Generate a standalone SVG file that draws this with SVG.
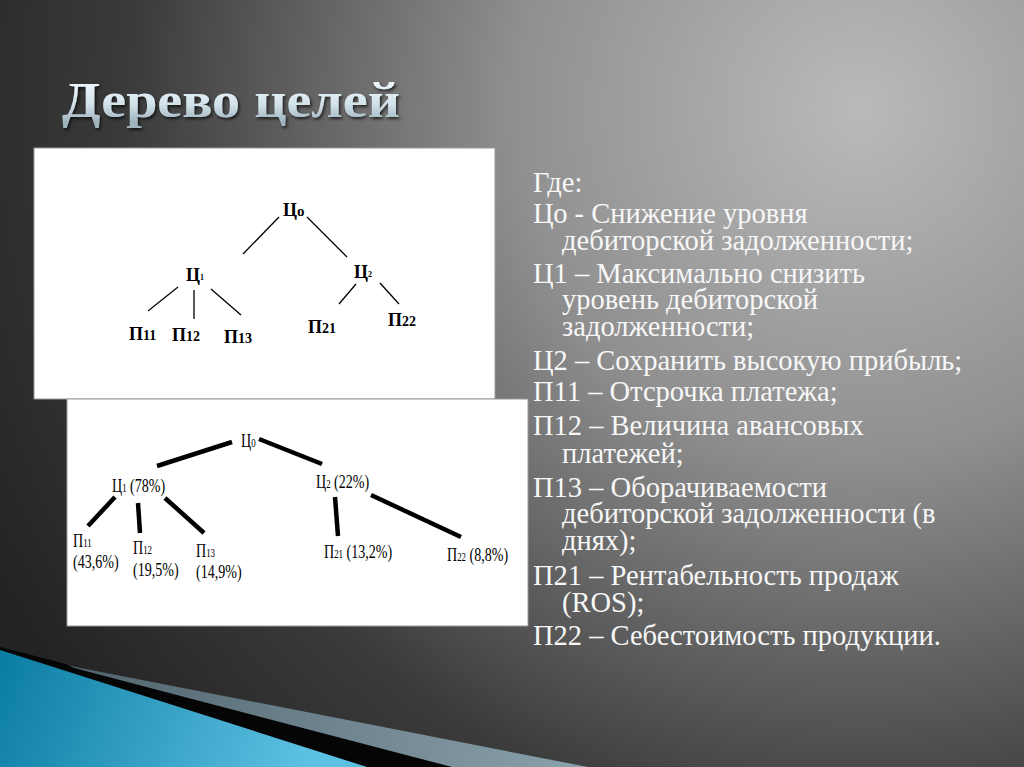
<svg xmlns="http://www.w3.org/2000/svg" width="1024" height="767" viewBox="0 0 1024 767">
  <defs>
    <radialGradient id="bg" cx="860" cy="110" r="980" gradientUnits="userSpaceOnUse">
      <stop offset="0" stop-color="#bababa"/>
      <stop offset="0.35" stop-color="#909090"/>
      <stop offset="0.75" stop-color="#3a3a3a"/>
      <stop offset="1" stop-color="#232323"/>
    </radialGradient>
    <linearGradient id="blue" x1="0" y1="650" x2="300" y2="767" gradientUnits="userSpaceOnUse">
      <stop offset="0" stop-color="#0a7ca3"/>
      <stop offset="1" stop-color="#5cc0e2"/>
    </linearGradient>
    <linearGradient id="slate" x1="60" y1="665" x2="588" y2="767" gradientUnits="userSpaceOnUse">
      <stop offset="0" stop-color="#4f636c"/>
      <stop offset="1" stop-color="#8aa2ad"/>
    </linearGradient>
    <linearGradient id="ttl" x1="0" y1="78" x2="0" y2="122" gradientUnits="userSpaceOnUse">
      <stop offset="0" stop-color="#f4fbff"/>
      <stop offset="0.6" stop-color="#d2e2ea"/>
      <stop offset="1" stop-color="#9fb3bd"/>
    </linearGradient>
    <filter id="sh" x="-5%" y="-20%" width="110%" height="140%">
      <feDropShadow dx="1.5" dy="2" stdDeviation="1.5" flood-color="#000" flood-opacity="0.7"/>
    </filter>
  </defs>
  <style>
    .t1 { font-family: "Liberation Serif", "Times New Roman", serif; font-weight: bold; fill: #000; }
    .t2 { font-family: "Liberation Serif", "Times New Roman", serif; font-size: 19px; fill: #000; }
    .sub { font-size: 12px; }
    .desc { font-family: "Liberation Serif", "Times New Roman", serif; font-size: 28.5px; fill: #f7f7f7; }
    .l1 { stroke: #000; stroke-width: 1.3; fill: none; }
    .l2 { stroke: #000; stroke-width: 4.5; fill: none; stroke-linecap: butt; }
  </style>

  <!-- background -->
  <rect x="0" y="0" width="1024" height="767" fill="url(#bg)"/>

  <!-- bottom-left decoration -->
  <polygon points="60,664 588,767 430,767" fill="url(#slate)"/>
  <polygon points="0,647 66,664 74,668 452,767 0,767" fill="#050505"/>
  <polygon points="0,650 367,767 0,767" fill="url(#blue)"/>

  <!-- title -->
  <text x="62" y="117" font-family="'Liberation Serif', 'Times New Roman', serif" font-weight="bold" font-size="50" fill="url(#ttl)" filter="url(#sh)" textLength="338" lengthAdjust="spacingAndGlyphs">Дерево целей</text>

  <!-- white panels -->
  <rect x="34" y="148" width="461" height="251" fill="#ffffff" stroke="#9a9a9a" stroke-width="1"/>
  <rect x="67" y="399" width="461" height="227" fill="#ffffff" stroke="#9a9a9a" stroke-width="1"/>

  <!-- tree 1 connectors -->
  <g id="connectors-tree1">
    <line class="l1" x1="279" y1="217" x2="243" y2="254"/>
    <line class="l1" x1="307" y1="217" x2="347" y2="257"/>
    <line class="l1" x1="178" y1="287" x2="148" y2="311"/>
    <line class="l1" x1="194" y1="290" x2="194" y2="319"/>
    <line class="l1" x1="211" y1="289" x2="241" y2="315"/>
    <line class="l1" x1="356" y1="284" x2="339" y2="304"/>
    <line class="l1" x1="380" y1="283" x2="399" y2="304"/>
  </g>

  <!-- tree 1 nodes -->
  <g id="t1-c0"><text class="t1" x="283" y="216" font-size="18">Ц<tspan font-size="15">о</tspan></text></g>
  <g id="t1-c1"><text class="t1" x="186" y="281" font-size="18">Ц<tspan font-size="8" dy="-1">1</tspan></text></g>
  <g id="t1-c2"><text class="t1" x="354" y="278" font-size="18">Ц<tspan font-size="8" dy="-1">2</tspan></text></g>
  <g id="t1-p11"><text class="t1" x="129" y="340" font-size="18">П<tspan font-size="14">11</tspan></text></g>
  <g id="t1-p12"><text class="t1" x="172" y="341" font-size="18">П<tspan font-size="14">12</tspan></text></g>
  <g id="t1-p13"><text class="t1" x="224" y="343" font-size="18">П<tspan font-size="14">13</tspan></text></g>
  <g id="t1-p21"><text class="t1" x="308" y="333" font-size="18">П<tspan font-size="14">21</tspan></text></g>
  <g id="t1-p22"><text class="t1" x="388" y="326" font-size="18">П<tspan font-size="14">22</tspan></text></g>

  <!-- tree 2 connectors -->
  <g id="connectors-tree2">
    <line class="l2" x1="232" y1="442" x2="157" y2="466"/>
    <line class="l2" x1="259" y1="439" x2="322" y2="464"/>
    <line class="l2" x1="115" y1="497" x2="88" y2="526"/>
    <line class="l2" x1="138" y1="503" x2="140" y2="533"/>
    <line class="l2" x1="165" y1="498" x2="204" y2="533"/>
    <line class="l2" x1="335" y1="497" x2="338" y2="536"/>
    <line class="l2" x1="371" y1="495" x2="461" y2="537"/>
  </g>

  <!-- tree 2 nodes (horizontally condensed like the reference) -->
  <g id="t2-c0" transform="translate(241,447) scale(0.74,1)"><text class="t2" x="0" y="0">Ц<tspan class="sub">0</tspan></text></g>
  <g id="t2-c1" transform="translate(112,492) scale(0.74,1)"><text class="t2" x="0" y="0">Ц<tspan class="sub">1</tspan> (78%)</text></g>
  <g id="t2-c2" transform="translate(316,488) scale(0.74,1)"><text class="t2" x="0" y="0">Ц<tspan class="sub">2</tspan> (22%)</text></g>
  <g id="t2-p11" transform="translate(73,547) scale(0.74,1)">
    <text class="t2" x="0" y="0">П<tspan class="sub">11</tspan></text>
    <text class="t2" x="0" y="21">(43,6%)</text>
  </g>
  <g id="t2-p12" transform="translate(133,554) scale(0.74,1)">
    <text class="t2" x="0" y="0">П<tspan class="sub">12</tspan></text>
    <text class="t2" x="0" y="22">(19,5%)</text>
  </g>
  <g id="t2-p13" transform="translate(196,557) scale(0.74,1)">
    <text class="t2" x="0" y="0">П<tspan class="sub">13</tspan></text>
    <text class="t2" x="0" y="21">(14,9%)</text>
  </g>
  <g id="t2-p21" transform="translate(324,558) scale(0.74,1)"><text class="t2" x="0" y="0">П<tspan class="sub">21</tspan> (13,2%)</text></g>
  <g id="t2-p22" transform="translate(447,561) scale(0.74,1)"><text class="t2" x="0" y="0">П<tspan class="sub">22</tspan> (8,8%)</text></g>

  <!-- description -->
  <g id="legend">
    <text class="desc" x="533" y="192">Где:</text>
    <text class="desc" x="533" y="223">Цо - Снижение уровня</text>
    <text class="desc" x="562" y="250">дебиторской задолженности;</text>
    <text class="desc" x="533" y="283">Ц1 – Максимально снизить</text>
    <text class="desc" x="562" y="309">уровень дебиторской</text>
    <text class="desc" x="562" y="336">задолженности;</text>
    <text class="desc" x="533" y="370">Ц2 – Сохранить высокую прибыль;</text>
    <text class="desc" x="533" y="401">П11 – Отсрочка платежа;</text>
    <text class="desc" x="533" y="435">П12 – Величина авансовых</text>
    <text class="desc" x="562" y="463">платежей;</text>
    <text class="desc" x="533" y="497">П13 – Оборачиваемости</text>
    <text class="desc" x="562" y="523">дебиторской задолженности (в</text>
    <text class="desc" x="562" y="550">днях);</text>
    <text class="desc" x="533" y="585">П21 – Рентабельность продаж</text>
    <text class="desc" x="562" y="612">(ROS);</text>
    <text class="desc" x="533" y="645">П22 – Себестоимость продукции.</text>
  </g>
</svg>
